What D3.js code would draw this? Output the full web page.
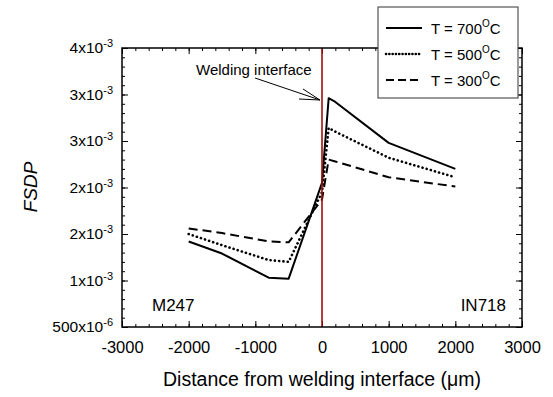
<!DOCTYPE html>
<html>
<head>
<meta charset="utf-8">
<script src="https://cdn.jsdelivr.net/npm/d3@7"></script>
<style>
  body { margin: 0; background: #fff; }
  svg { font-family: "Liberation Sans", Arial, sans-serif; }
</style>
</head>
<body>
<svg id="chart" width="553" height="397"></svg>
<script>
// distances (um) and FSDP values
const distance = [-2000, -1500, -800, -500, 0, 100, 200, 1000, 2000];
const fsdp700 = [1.42e-3, 1.29e-3, 1.03e-3, 1.02e-3, 2.05e-3, 2.96e-3, 2.92e-3, 2.48e-3, 2.2e-3];
const fsdp500 = [1.5e-3, 1.38e-3, 1.22e-3, 1.2e-3, 1.95e-3, 2.64e-3, 2.6e-3, 2.32e-3, 2.11e-3];
const fsdp300 = [1.56e-3, 1.51e-3, 1.42e-3, 1.41e-3, 1.87e-3, 2.3e-3, 2.28e-3, 2.11e-3, 2.01e-3];
const xTicks = [-3000, -2000, -1000, 0, 1000, 2000, 3000];
const yTicks = [0.5e-3, 1e-3, 1.5e-3, 2e-3, 2.5e-3, 3e-3, 3.5e-3];
const seriesNames = ["T = 700", "T = 500", "T = 300"];

const svg = d3.select("#chart");
const plotL = 122, plotR = 522, plotT = 48, plotB = 327;
const font = "Liberation Sans, Arial, sans-serif";

const x = d3.scaleLinear().domain([-3000, 3000]).range([plotL, plotR]);
const y = d3.scaleLinear().domain([0.5e-3, 3.5e-3]).range([plotB, plotT]);

const styles = [
  { dash: null, width: 2 },
  { dash: "0.1,4.2", width: 2.6, cap: "round" },
  { dash: "9,5", width: 2 }
];

// minor ticks
const xMinor = d3.range(-3000, 3001, 200);
const yMinor = d3.range(0.5e-3, 3.5e-3 + 1e-9, 0.1e-3);

function tickGroup(axis, tr) {
  const g = svg.append("g").attr("transform", tr).call(axis);
  g.select(".domain").remove();
  g.selectAll("line").attr("stroke", "#000").attr("stroke-width", 1);
  return g;
}

tickGroup(d3.axisBottom(x).tickValues(xMinor).tickSize(-3).tickFormat(""), `translate(0,${plotB})`);
tickGroup(d3.axisTop(x).tickValues(xMinor).tickSize(-3).tickFormat(""), `translate(0,${plotT})`);
tickGroup(d3.axisLeft(y).tickValues(yMinor).tickSize(-3).tickFormat(""), `translate(${plotL},0)`);
tickGroup(d3.axisRight(y).tickValues(yMinor).tickSize(-3).tickFormat(""), `translate(${plotR},0)`);

const xAxis = tickGroup(
  d3.axisBottom(x).tickValues(xTicks).tickSize(-6).tickPadding(14).tickFormat((d) => String(d)),
  `translate(0,${plotB})`
);
xAxis.selectAll("text").attr("font-size", 16.5).attr("fill", "#000").attr("font-family", font);
tickGroup(d3.axisTop(x).tickValues(xTicks).tickSize(-6).tickFormat(""), `translate(0,${plotT})`);

const yAxis = tickGroup(d3.axisLeft(y).tickValues(yTicks).tickSize(-6).tickPadding(9), `translate(${plotL},0)`);
tickGroup(d3.axisRight(y).tickValues(yTicks).tickSize(-6).tickFormat(""), `translate(${plotR},0)`);

yAxis.selectAll("text").each(function (d) {
  const t = d3.select(this).text("")
    .attr("font-size", 15.5).attr("fill", "#000").attr("font-family", font);
  const mant = d < 0.99e-3 ? Math.round(d * 1e6) : Math.round(d * 1e3);
  const exp = d < 0.99e-3 ? "-6" : "-3";
  t.append("tspan").text(mant + "x10");
  t.append("tspan").attr("font-size", 11).attr("dy", -6).text(exp);
});

// lines
const line = d3.line().x((d) => x(d[0])).y((d) => y(d[1]));
[fsdp700, fsdp500, fsdp300].forEach((vals, i) => {
  svg.append("path")
    .datum(distance.map((dd, j) => [dd, vals[j]]))
    .attr("d", line)
    .attr("fill", "none")
    .attr("stroke", "#000")
    .attr("stroke-width", styles[i].width)
    .attr("stroke-dasharray", styles[i].dash)
    .attr("stroke-linecap", styles[i].cap || "butt")
    .attr("stroke-linejoin", "round");
});

// welding interface line
svg.append("line")
  .attr("x1", x(0)).attr("x2", x(0))
  .attr("y1", plotT).attr("y2", plotB)
  .attr("stroke", "#a01010").attr("stroke-width", 1.6);

// frame
svg.append("rect")
  .attr("x", plotL).attr("y", plotT)
  .attr("width", plotR - plotL).attr("height", plotB - plotT)
  .attr("fill", "none").attr("stroke", "#000").attr("stroke-width", 1.5);

// annotation
svg.append("text").attr("x", 196).attr("y", 75)
  .attr("font-size", 15).text("Welding interface");
svg.append("line").attr("x1", 255).attr("y1", 78).attr("x2", 320).attr("y2", 100)
  .attr("stroke", "#000").attr("stroke-width", 1);
svg.append("path").attr("d", "M303,89 L320,100 L299,99")
  .attr("fill", "none").attr("stroke", "#000").attr("stroke-width", 1);

svg.append("text").attr("x", 152).attr("y", 311).attr("font-size", 17).text("M247");
svg.append("text").attr("x", 506).attr("y", 311).attr("font-size", 17)
  .attr("text-anchor", "end").text("IN718");

// axis titles
svg.append("text").attr("x", 322).attr("y", 386).attr("font-size", 19.5)
  .attr("text-anchor", "middle").text("Distance from welding interface (\u03bcm)");
svg.append("text")
  .attr("transform", "translate(37,187) rotate(-90)")
  .attr("font-size", 19).attr("font-style", "italic")
  .attr("text-anchor", "middle").text("FSDP");

// legend
const lg = svg.append("g");
lg.append("rect").attr("x", 378).attr("y", 7).attr("width", 140).attr("height", 91)
  .attr("fill", "#fff").attr("stroke", "#333").attr("stroke-width", 1);
seriesNames.forEach((name, i) => {
  const yy = 28 + i * 26;
  lg.append("line").attr("x1", 386).attr("x2", 422).attr("y1", yy).attr("y2", yy)
    .attr("stroke", "#000").attr("stroke-width", styles[i].width)
    .attr("stroke-dasharray", i === 1 ? "0.1,3.2" : i === 2 ? "8,4" : null)
    .attr("stroke-linecap", styles[i].cap || "butt");
  const t = lg.append("text").attr("x", 431).attr("y", yy + 6).attr("font-size", 15);
  t.append("tspan").text(name);
  t.append("tspan").attr("font-size", 10).attr("dy", -7).text("O");
  t.append("tspan").attr("dy", 7).text("C");
});
</script>
</body>
</html>
